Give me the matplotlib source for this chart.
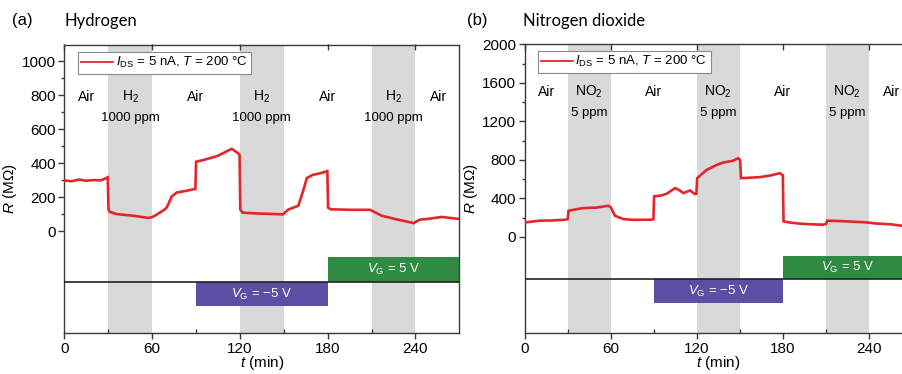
import matplotlib
matplotlib.use("Agg")
import matplotlib.pyplot as plt

plt.rcParams['font.family'] = ['Liberation Sans', 'DejaVu Sans']
plt.rcParams['mathtext.fontset'] = 'custom'
plt.rcParams['mathtext.rm'] = 'Liberation Sans'
plt.rcParams['mathtext.it'] = 'Liberation Sans:italic'
plt.rcParams['mathtext.bf'] = 'Liberation Sans:bold'

# hydrogen trace
t_h2 = [0, 5, 10, 15, 20, 25, 29.7, 30.2, 31, 35.8, 40, 47, 52, 57.5, 60, 63, 68, 70,
        73.5, 77, 83, 89.6, 90.1, 95, 100, 105, 111, 114.5, 118, 119.8, 120.3, 122,
        130, 140, 149.5, 153, 160, 163.5, 165.8, 170, 175, 179.8, 180.3, 182, 195,
        209, 217, 226, 238.8, 243, 250, 258, 263, 270]
r_h2 = [300, 295, 305, 298, 302, 300, 318, 130, 115, 102, 98, 92, 86, 79, 84, 98, 125, 140,
        206, 229, 238, 250, 410, 420, 432, 445, 471, 486, 465, 451, 128, 110,
        106, 103, 100, 128, 151, 245, 314, 333, 342, 355, 140, 130, 127,
        127, 92, 73, 49, 69, 75, 85, 80, 73]

# nitrogen dioxide trace
t_no2 = [0, 10.7, 20, 28, 30, 30.6, 35, 41, 50, 58.3, 60, 63, 68.8, 75, 88.6, 89.8, 90.3,
         95, 99, 104.9, 108, 110.7, 115.3, 118.8, 119.8, 120.3, 127, 134, 138.6, 145,
         149, 150.3, 150.9, 157, 164, 172, 178, 180.1, 180.6, 185, 192, 200, 208, 210.2,
         211, 220, 230, 238.6, 245, 255, 263, 270]
r_no2 = [151, 169, 172, 179, 185, 272, 285, 300, 305, 324, 310, 220, 186, 178, 179, 185, 421,
         430, 448, 507, 485, 455, 483, 445, 450, 610, 697, 748, 773, 790,
         817, 800, 610, 615, 621, 640, 662, 640, 162, 150, 138, 132, 127, 135,
         169, 165, 158, 151, 140, 132, 117, 115]

gas_spans = [(30, 60), (120, 150), (210, 240)]
air_pos = [15, 90, 180, 256]
gas_pos = [45, 135, 225]
xticks = [0, 60, 120, 180, 240]
xminor = [30, 90, 150, 210]

red = '#e3262b'
gray = '#d9d9d9'
green = '#2e8b41'
purple = '#5a4fa2'
spine = '#3a3a3a'

fig = plt.figure(figsize=(9.03, 3.74), dpi=100)
ax1 = fig.add_axes([64.3 / 903, 1 - 333.3 / 374, 395 / 903, 288.8 / 374])
ax2 = fig.add_axes([524.7 / 903, 1 - 333.3 / 374, 387 / 903, 289 / 374])


def panel(ax, t, r, ylim, yticks, yminor, line_y, green_top, purple_bot,
          gas, conc, air_y, conc_y, leg_x, leg_y):
    for a, b in gas_spans:
        ax.axvspan(a, b, color=gray, lw=0, zorder=0)
    ax.plot(t, r, color=red, lw=1.9, zorder=3, solid_joinstyle='miter',
            label=r'$I_{\rm DS}$ = 5 nA, $T$ = 200 °C')
    ax.axhline(line_y, color='#222222', lw=1.2, zorder=4)
    ax.bar([225], [green_top - line_y], bottom=[line_y], width=90, color=green, zorder=2)
    ax.bar([135], [line_y - purple_bot], bottom=[purple_bot], width=90, color=purple, zorder=2)
    ax.text(225, (green_top + line_y) / 2, r'$V_{\rm G}$ = 5 V', color='white',
            ha='center', va='center', fontsize=9.5, zorder=5)
    ax.text(135, (purple_bot + line_y) / 2, r'$V_{\rm G}$ = −5 V', color='white',
            ha='center', va='center', fontsize=9.5, zorder=5)
    for x in air_pos:
        ax.text(x, air_y, 'Air', ha='center', va='center', fontsize=10, zorder=5)
    for x in gas_pos:
        ax.text(x, air_y, gas, ha='center', va='center', fontsize=10, zorder=5)
        ax.text(x, conc_y, conc, ha='center', va='center', fontsize=9.5, zorder=5)

    ax.set_xlim(0, 270)
    ax.set_ylim(*ylim)
    ax.set_xticks(xticks)
    ax.set_xticks(xminor, minor=True)
    ax.set_yticks(yticks)
    ax.set_yticks(yminor, minor=True)
    ax.tick_params(axis='x', which='major', direction='out', length=4, width=1,
                   labelsize=11, color=spine, pad=2)
    ax.tick_params(axis='x', which='minor', direction='in', length=3, width=1, color=spine)
    ax.tick_params(axis='y', which='major', direction='out', length=4, width=1,
                   labelsize=11, color=spine, pad=2)
    ax.tick_params(axis='y', which='minor', direction='out', length=2, width=1, color=spine)
    top = ax.secondary_xaxis('top')
    top.set_xticks(xticks)
    top.tick_params(direction='in', length=4, width=1, labeltop=False, color=spine)
    top.spines['top'].set_visible(False)
    for s in ax.spines.values():
        s.set_color(spine)
        s.set_linewidth(1)
    ax.set_xlabel(r'$t$ (min)', fontsize=11, labelpad=-1)
    ax.set_ylabel(r'$R$ (MΩ)', fontsize=11, labelpad=2)
    leg = ax.legend(loc='upper left', bbox_to_anchor=(leg_x, leg_y), borderaxespad=0,
                    fontsize=9.5, handlelength=2.4, handletextpad=0.2, borderpad=0.25,
                    fancybox=False, framealpha=1, edgecolor='#8a8a8a')
    leg.get_frame().set_linewidth(0.8)
    leg.get_lines()[0].set_linewidth(1.3)
    leg.set_zorder(6)


panel(ax1, t_h2, r_h2, (-600, 1100), [0, 200, 400, 600, 800, 1000],
      [100, 300, 500, 700, 900], -300, -150, -440,
      r'H$_2$', '1000 ppm', 792, 669, 0.035, 0.974)
panel(ax2, t_no2, r_no2, (-1000, 2000), [0, 400, 800, 1200, 1600, 2000],
      [200, 600, 1000, 1400, 1800], -437, -194, -687,
      r'NO$_2$', '5 ppm', 1504, 1288, 0.034, 0.977)

fig.text(12 / 903, 1 - 21 / 374, '(a)', fontsize=12, va='center', ha='left')
fig.text(65 / 903, 1 - 21 / 374, 'Hydrogen', fontsize=12, family=['Lato', 'DejaVu Sans'],
         va='center', ha='left')
fig.text(467 / 903, 1 - 21 / 374, '(b)', fontsize=12, va='center', ha='left')
fig.text(523 / 903, 1 - 21 / 374, 'Nitrogen dioxide', fontsize=12,
         family=['Lato', 'DejaVu Sans'], va='center', ha='left')

fig.savefig('out.png', dpi=100)
